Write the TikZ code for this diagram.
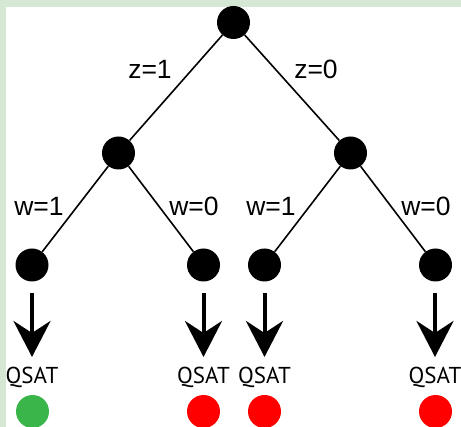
\documentclass[tikz,border=0pt]{standalone}
\usepackage{fontspec}
\setmainfont{Liberation Sans}
\newfontfamily\qfont{PT Sans}
\usetikzlibrary{arrows.meta}
\definecolor{framegreen}{HTML}{D5E8D4}
\definecolor{okgreen}{HTML}{3AB54A}
\definecolor{badred}{HTML}{FF0000}
\begin{document}
\begin{tikzpicture}[x=1pt,y=-1pt,
  vertex/.style={circle,fill=black,minimum size=33pt,inner sep=0pt},
  result/.style={circle,minimum size=33pt,inner sep=0pt},
  edge/.style={line width=1.6pt},
  branch/.style={font=\fontsize{26.5}{31}\selectfont,inner sep=0pt},
  qlabel/.style={font=\qfont\fontsize{23}{28}\selectfont,inner sep=0pt},
  down/.style={line width=4pt,-{Stealth[length=36pt,width=37pt,inset=12pt]}}]
  % background frame
  \useasboundingbox (0,0) rectangle (461,427);
  \fill[framegreen] (0,0) rectangle (461,427);
  \fill[white] (6,7) rectangle (461,427);

  % tree vertices
  \node[vertex] (root) at (233.5,22.5) {};
  \node[vertex] (ml) at (118.5,153) {};
  \node[vertex] (mr) at (350.5,153) {};
  \node[vertex] (l1) at (32,265) {};
  \node[vertex] (l2) at (203.5,265) {};
  \node[vertex] (l3) at (264.5,265) {};
  \node[vertex] (l4) at (435.5,265) {};

  % branches
  \draw[edge] (root) -- (ml);
  \draw[edge] (root) -- (mr);
  \draw[edge] (ml) -- (l1);
  \draw[edge] (ml) -- (l2);
  \draw[edge] (mr) -- (l3);
  \draw[edge] (mr) -- (l4);

  % branch labels
  \node[branch] (tz1) at (150,69.5) {z=1};
  \node[branch] (tz0) at (316,69.5) {z=0};
  \node[branch] (tw1a) at (39,206.5) {w=1};
  \node[branch] (tw0a) at (194,206.5) {w=0};
  \node[branch] (tw1b) at (271,206.5) {w=1};
  \node[branch] (tw0b) at (426,206.5) {w=0};

  % arrows to the QSAT calls
  \foreach \n/\x in {1/32,2/203.5,3/264.5,4/435}{
    \coordinate (s\n) at (\x,293);
    \coordinate (e\n) at (\x,357);
    \draw[down] (s\n) -- (e\n);
    \node[qlabel] (q\n) at (\x,377) {QSAT};
  }

  % outcomes
  \node[result,fill=okgreen] (r1) at (32.5,411.5) {};
  \node[result,fill=badred] (r2) at (203.5,411.5) {};
  \node[result,fill=badred] (r3) at (264.5,411.5) {};
  \node[result,fill=badred] (r4) at (435.5,411.5) {};
\end{tikzpicture}
\end{document}
